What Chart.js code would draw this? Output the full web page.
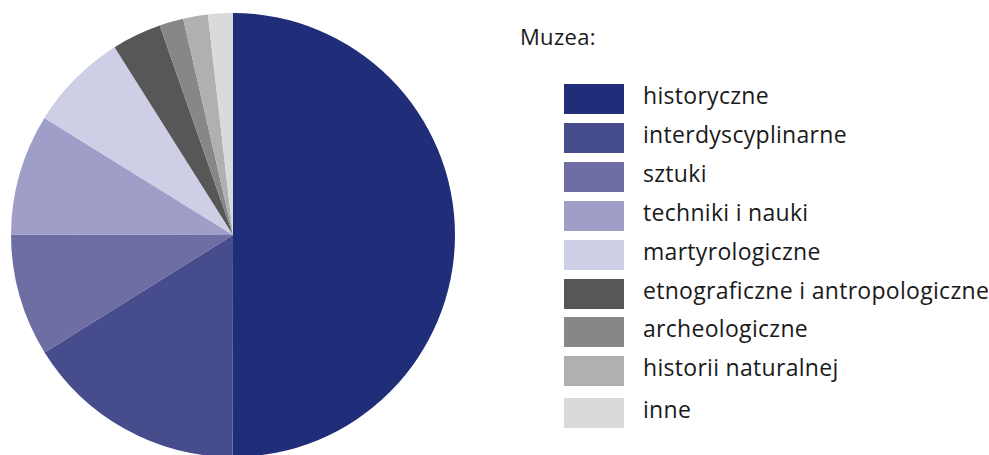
<!DOCTYPE html>
<html>
<head>
<meta charset="utf-8">
<script src="https://cdn.jsdelivr.net/npm/chart.js@4"></script>
<style>
  html, body { margin: 0; padding: 0; background: #fff; }
  body { width: 989px; height: 455px; position: relative; overflow: hidden; font-family: "Open Sans", "Noto Sans", sans-serif; color: #1a1a1a; }
  #wrap { position: absolute; left: 0; top: 0; width: 466px; height: 470px; }
  #title { position: absolute; left: 520px; top: 21px; font-size: 22px; line-height: 30px; letter-spacing: 0.3px; }
  .item { position: absolute; left: 564px; height: 30px; }
  .box { position: absolute; left: 0; top: 0; width: 60px; height: 30px; }
  .lbl { position: absolute; left: 79px; top: -4px; font-size: 23px; line-height: 30px; letter-spacing: 0.3px; white-space: nowrap; }
</style>
</head>
<body>
<div id="wrap"><canvas id="c" width="466" height="470"></canvas></div>
<div id="title">Muzea:</div>
<div id="legend"></div>
<script>
const categories = ["historyczne", "interdyscyplinarne", "sztuki", "techniki i nauki", "martyrologiczne", "etnograficzne i antropologiczne", "archeologiczne", "historii naturalnej", "inne"];
const shares = [50.0, 16.1, 8.9, 8.8, 7.2, 3.6, 1.75, 1.8, 1.8];
const colors = ["#202d78", "#464c8c", "#6e6ea5", "#9f9ec8", "#cecee6", "#575757", "#878787", "#b0b0b0", "#dadada"];
const legendTops = [84, 123, 162, 201, 240, 279, 317, 356, 398];

const legend = document.getElementById('legend');
categories.forEach((name, i) => {
  const it = document.createElement('div');
  it.className = 'item';
  it.style.top = legendTops[i] + 'px';
  const b = document.createElement('div');
  b.className = 'box';
  b.style.background = colors[i];
  const l = document.createElement('div');
  l.className = 'lbl';
  l.textContent = name;
  it.appendChild(b); it.appendChild(l);
  legend.appendChild(it);
});

new Chart(document.getElementById('c'), {
  type: 'pie',
  data: {
    labels: categories,
    datasets: [{ data: shares, backgroundColor: colors, borderWidth: 0 }]
  },
  options: {
    responsive: false,
    animation: false,
    radius: 222,
    layout: { padding: 0 },
    plugins: { legend: { display: false }, tooltip: { enabled: false } }
  }
});
</script>
</body>
</html>
